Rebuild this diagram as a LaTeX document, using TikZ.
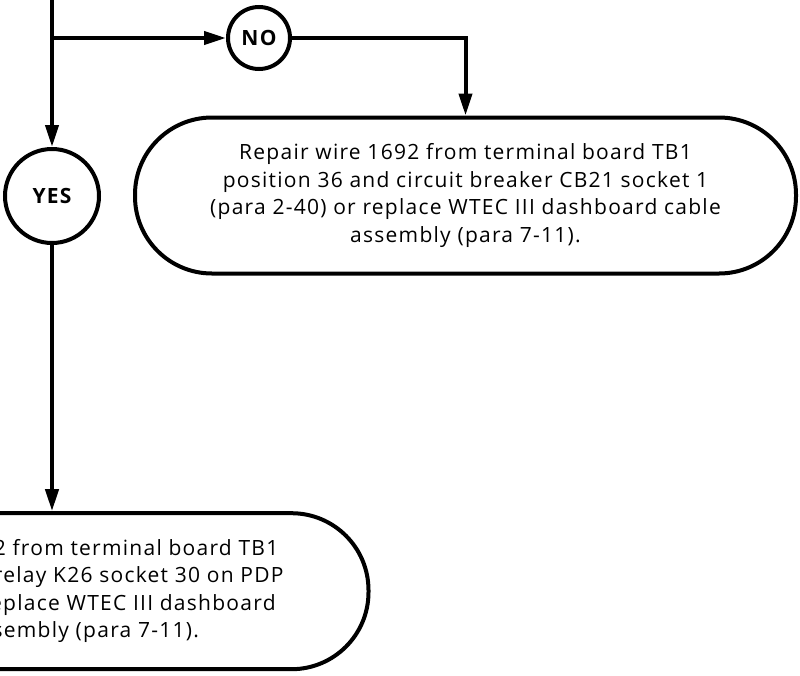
\documentclass[tikz,border=0pt]{standalone}
\usepackage{fontspec}
\setmainfont[LetterSpace=6]{Open Sans}
\usetikzlibrary{arrows.meta,positioning}

\begin{document}
\begin{tikzpicture}[x=1pt,y=-1pt,
    answer/.style={circle,draw,line width=4pt,inner sep=0pt,
      font=\bfseries\fontsize{21}{24}\selectfont},
    action/.style={draw,line width=4pt,rounded corners=77pt,minimum height=156pt,
      align=center,font=\fontsize{21}{27.5}\selectfont},
    arr/.style={-{Triangle[length=22pt,width=13pt]},line width=4pt}
  ]
    \useasboundingbox (0,0) rectangle (800,675);
    \clip (0,0) rectangle (800,675);
    \coordinate (top) at (52,0);
    \coordinate (fork) at (52,38);
    \node[answer,minimum size=62pt] (no) at (259,38) {NO};
    \node[answer,minimum size=94pt] (yes) at (52,196) {YES};
    \node[action,minimum width=661pt] (fixcb) at (465.5,195.5)
      {Repair wire 1692 from terminal board TB1\\
       position 36 and circuit breaker CB21 socket 1\\
       (para 2-40) or replace WTEC III dashboard cable\\
       assembly (para 7-11).};
    \node[action,minimum width=633pt] (fixk) at (52,591.2)
      {Repair wire 1692 from terminal board TB1\\
       position 36 and relay K26 socket 30 on PDP\\
       (para 2-40) or replace WTEC III dashboard\\
       cable assembly (para 7-11).};
    \draw[arr] (top) -- (yes);
    \draw[arr] (fork) -- (no);
    \draw[arr] (no) -| (fixcb);
    \draw[arr] (yes) -- (fixk);
  \end{tikzpicture}
\end{document}
